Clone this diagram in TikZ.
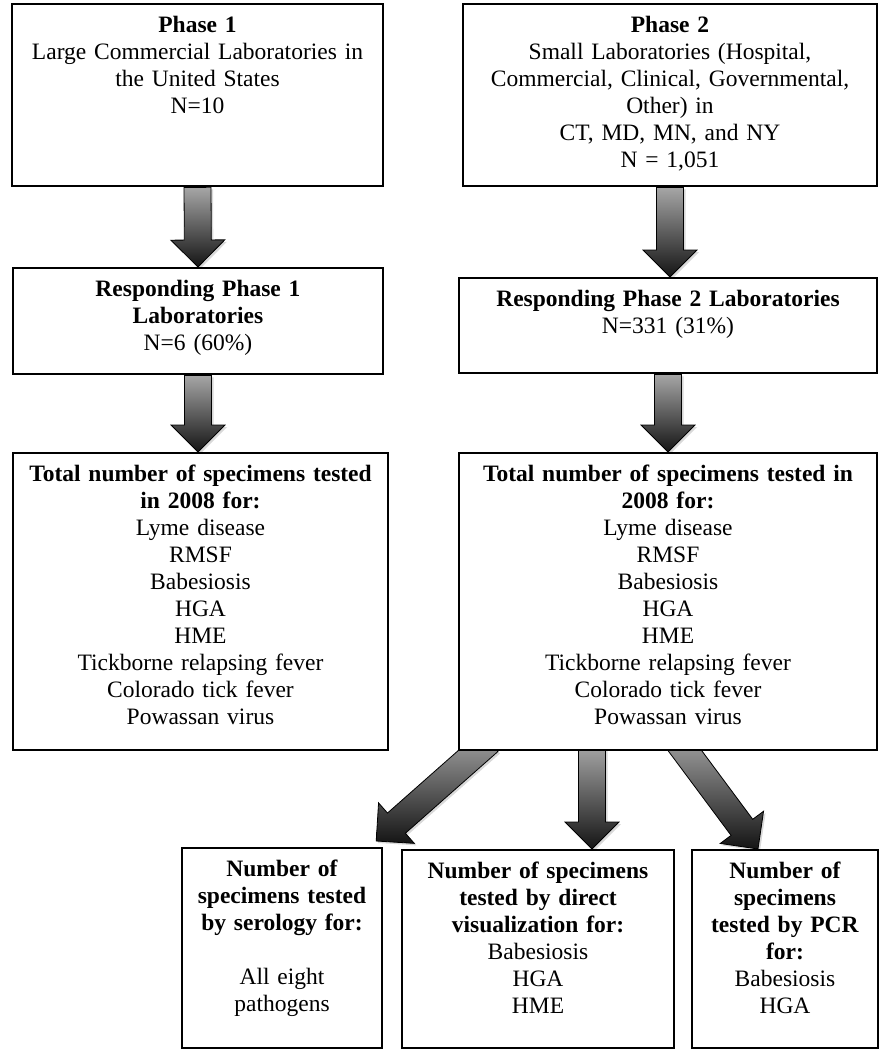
\documentclass[tikz,border=0pt]{standalone}
\usepackage{fontspec}
\setmainfont{Liberation Serif}
\usetikzlibrary{calc,backgrounds,shadows}

\begin{document}
\begin{tikzpicture}[
    x=0.5pt, y=-0.5pt,
    box/.style={draw, line width=1.2pt, fill=white, anchor=north, align=center,
        inner xsep=4pt, inner ysep=4pt, text height=10pt,
        font=\fontsize{11.75}{13.5}\selectfont},
    fat/.style={draw=black, line width=0.4pt, top color=black!35, bottom color=black!92,
        drop shadow={opacity=0.3, shadow xshift=1pt, shadow yshift=-1pt},
        to path={
            ($(\tikztotarget)!13.5pt!(\tikztostart)$) coordinate (fa)
            ($(\tikztostart)!6.75pt!90:(\tikztotarget)$)
            -- ($(fa)!6.75pt!-90:(\tikztostart)$)
            -- ($(fa)!13.5pt!-90:(\tikztostart)$)
            -- (\tikztotarget)
            -- ($(fa)!13.5pt!90:(\tikztostart)$)
            -- ($(fa)!6.75pt!90:(\tikztostart)$)
            -- ($(\tikztostart)!6.75pt!-90:(\tikztotarget)$)
            -- cycle}},
]
\useasboundingbox (0,0) rectangle (880,1050);

% --- Phase 1 column ---
\node[box, text width=177.5pt, text depth=73pt] (ph1) at (197.5,3)
    {\textbf{Phase 1}\\ Large Commercial Laboratories in\\ the United States\\ N=10};
\node[box, text width=177pt, text depth=35pt] (resp1) at (198,267)
    {\textbf{Responding Phase 1}\\ \textbf{Laboratories}\\ N=6 (60\%)};
\node[box, text width=179.5pt, text depth=130.5pt] (tot1) at (200.5,452)
    {\textbf{Total number of specimens tested}\\ \textbf{in 2008 for:}\\
     Lyme disease\\ RMSF\\ Babesiosis\\ HGA\\ HME\\
     Tickborne relapsing fever\\ Colorado tick fever\\ Powassan virus};

% --- Phase 2 column ---
\node[box, text width=199pt, text depth=73pt] (ph2) at (670,3)
    {\textbf{Phase 2}\\ Small Laboratories (Hospital,\\ Commercial, Clinical, Governmental,\\
     Other) in\\ CT, MD, MN, and NY\\ N = 1,051};
\node[box, text width=201pt, text depth=29.5pt] (resp2) at (668,277)
    {\textbf{Responding Phase 2 Laboratories}\\ N=331 (31\%)};
\node[box, text width=201pt, text depth=130.5pt] (tot2) at (668,452)
    {\textbf{Total number of specimens tested in}\\ \textbf{2008 for:}\\
     Lyme disease\\ RMSF\\ Babesiosis\\ HGA\\ HME\\
     Tickborne relapsing fever\\ Colorado tick fever\\ Powassan virus};

% --- Test method boxes ---
\node[box, text width=92pt, text depth=82pt] (sero) at (282,847)
    {\textbf{Number of}\\ \textbf{specimens tested}\\ \textbf{by serology for:}\\[13.5pt]
     All eight\\ pathogens};
\node[box, text width=128pt, text depth=81pt] (dvis) at (538,849)
    {\textbf{Number of specimens}\\ \textbf{tested by direct}\\ \textbf{visualization for:}\\
     Babesiosis\\ HGA\\ HME};
\node[box, text width=85pt, text depth=81pt] (pcr) at (785,849)
    {\textbf{Number of}\\ \textbf{specimens}\\ \textbf{tested by PCR}\\ \textbf{for:}\\
     Babesiosis\\ HGA};

% --- Arrow ends ---
\coordinate (tot1in) at (resp1.south |- tot1.north);
\coordinate (resp2in) at (ph2.south |- resp2.north);
\coordinate (tot2in) at (resp2.south |- tot2.north);
\coordinate (b1) at ([xshift=-89.5pt, yshift=5pt]tot2.south);
\coordinate (b2) at ([xshift=-38pt, yshift=3pt]tot2.south);
\coordinate (b3) at ([xshift=5pt, yshift=5pt]tot2.south);
\coordinate (e1) at ([xshift=-3.5pt, yshift=3pt]sero.north east);
\coordinate (e2) at ([xshift=27pt]dvis.north);
\coordinate (e3) at ([xshift=-13.5pt]pcr.north);

% --- Block arrows ---
\begin{scope}[on background layer]
\path[fat] (ph1.south) to (resp1.north);
\path[fat] (resp1.south) to (tot1in);
\path[fat] (ph2.south) to (resp2in);
\path[fat] (resp2.south) to (tot2in);
\path[fat] (b1) to (e1);
\path[fat] (b2) to (e2);
\path[fat] (b3) to (e3);
\end{scope}

\end{tikzpicture}
\end{document}
